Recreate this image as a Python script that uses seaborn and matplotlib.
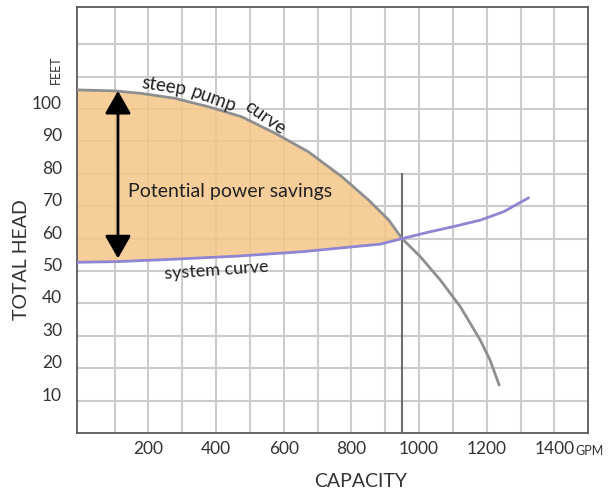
import numpy as np
import matplotlib
matplotlib.use('Agg')
import matplotlib.pyplot as plt
import matplotlib.transforms as mtransforms
import seaborn as sns

# pump curve (GPM, feet)
pump_gpm = [-10, 102, 181, 279, 378, 476, 575, 673, 772, 851, 910, 950,
            1004, 1063, 1122, 1181, 1210, 1237]
pump_head = [105.9, 105.6, 104.8, 103.3, 100.7, 97.6, 92.5, 86.8, 79.1, 71.9, 65.8, 60.0,
             54.4, 47.2, 39.0, 28.7, 22.5, 14.8]

# system curve
system_gpm = [-10, 107, 265, 463, 659, 806, 885, 950, 1032, 1101, 1181, 1250, 1324]
system_head = [52.7, 52.9, 53.6, 54.6, 56.0, 57.5, 58.3, 60.0, 62.1, 63.7, 65.7, 68.3, 72.6]

operating_gpm = 950
operating_line_top = 80.3
arrow_gpm = 110
arrow_top, arrow_bottom = 105.6, 53.9

x_grid = list(range(100, 1500, 100))
x_labels = [str(v) if v % 200 == 0 else '' for v in x_grid]
y_grid = list(range(10, 130, 10))
y_labels = [str(v) if v <= 100 else '' for v in y_grid]

sns.set_theme(style='white')
plt.rcParams['font.family'] = ['Lato', 'DejaVu Sans']

fig = plt.figure(figsize=(6.16, 4.96), dpi=100)
ax = fig.add_axes([0.1256, 0.127, 0.8292, 0.8589])

# grid
for v in x_grid:
    ax.axvline(v, color='#cccccc', lw=1.5, zorder=1)
for v in y_grid:
    ax.axhline(v, color='#cccccc', lw=1.5, zorder=1)

# shaded savings region between the two curves
mask_p = np.array(pump_gpm) <= operating_gpm
mask_s = np.array(system_gpm) <= operating_gpm
poly_x = np.concatenate([np.array(pump_gpm)[mask_p], np.array(system_gpm)[mask_s][::-1]])
poly_y = np.concatenate([np.array(pump_head)[mask_p], np.array(system_head)[mask_s][::-1]])
ax.fill(poly_x, poly_y, color='#f5c688', alpha=0.85, lw=0, zorder=2)

ax.vlines(operating_gpm, 0, operating_line_top, color='#6e6e6e', lw=1.5, zorder=3)

sns.lineplot(x=pump_gpm, y=pump_head, ax=ax, color='#8f8f8f', lw=2,
             estimator=None, sort=False, zorder=4)
sns.lineplot(x=system_gpm, y=system_head, ax=ax, color='#9085d2', lw=2,
             estimator=None, sort=False, zorder=4)

ax.annotate('', xy=(arrow_gpm, arrow_top), xytext=(arrow_gpm, arrow_bottom),
            arrowprops=dict(arrowstyle='<|-|>,head_length=0.7,head_width=0.4',
                            color='black', lw=2, mutation_scale=20,
                            shrinkA=0, shrinkB=0), zorder=5)

# labels on the curves
ax.text(247, 107.1, 'steep', rotation=-9, fontsize=13.5, color='#222222',
        ha='center', va='center', zorder=6)
ax.text(393, 103.0, 'pump', rotation=-20, fontsize=13.5, color='#222222',
        ha='center', va='center', zorder=6)
ax.text(545, 97.2, 'curve', rotation=-35, fontsize=13.5, color='#222222',
        ha='center', va='center', zorder=6)
ax.text(400, 50.3, 'system curve', rotation=4, fontsize=13, color='#222222',
        ha='center', va='center', zorder=6)
ax.text(442, 74.5, 'Potential power savings', fontsize=14, color='#222222',
        ha='center', va='center', zorder=6)

ax.set_xlim(-10, 1500)
ax.set_ylim(0, 131.5)
ax.set_xticks(x_grid)
ax.set_xticklabels(x_labels)
ax.set_yticks(y_grid)
ax.set_yticklabels(y_labels)
ax.tick_params(axis='both', length=0, labelsize=12.5, colors='#333333')
ax.tick_params(axis='x', pad=6)
ax.tick_params(axis='y', pad=11)

shift = mtransforms.ScaledTranslation(0, 0.066, fig.dpi_scale_trans)
for lab in ax.get_yticklabels():
    lab.set_transform(lab.get_transform() + shift)

for sp in ax.spines.values():
    sp.set_visible(True)
    sp.set_color('#5a5a5a')
    sp.set_linewidth(1.3)

ax.set_xlabel('CAPACITY', fontsize=14, color='#333333', va='center')
ax.set_ylabel('TOTAL HEAD', fontsize=14, color='#333333', va='center')
ax.xaxis.set_label_coords(0.554, -0.115)
ax.yaxis.set_label_coords(-0.109, 0.406)
ax.text(-0.043, 0.852, 'FEET', rotation=90, fontsize=9, color='#333333',
        transform=ax.transAxes, ha='center', va='center')
ax.text(1503, -0.042, 'GPM', fontsize=9, color='#333333',
        transform=ax.get_xaxis_transform(), ha='center', va='center')

fig.savefig('out.png', dpi=100)
